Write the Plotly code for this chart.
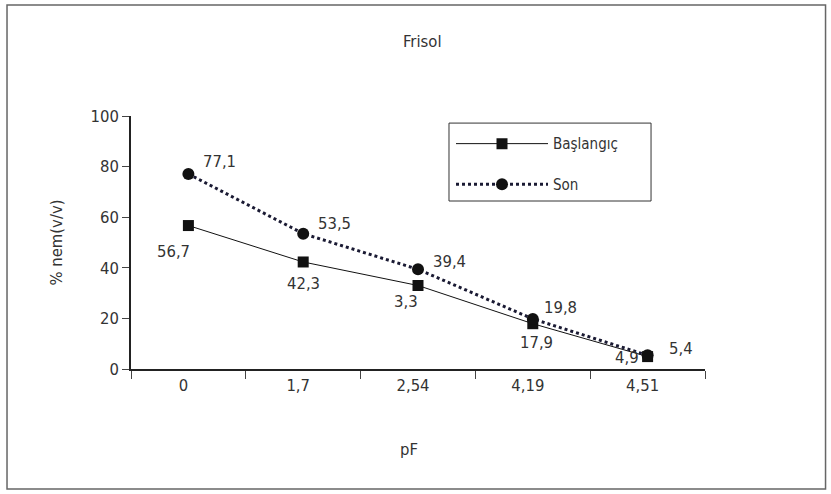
import plotly.graph_objects as go

categories = ["0", "1,7", "2,54", "4,19", "4,51"]
baslangic = [56.7, 42.3, 33.0, 17.9, 4.9]
baslangic_labels = ["56,7", "42,3", "3,3", "17,9", "4,9"]
son = [77.1, 53.5, 39.4, 19.8, 5.4]
son_labels = ["77,1", "53,5", "39,4", "19,8", "5,4"]

# label offsets in pixels (dx, dy up-positive)
b_off = [(-15, -26), (0, -22), (-12, -16), (4, -19), (-21, -1)]
s_off = [(31, 12), (31, 10), (31, 8), (28, 11), (33, 7)]

FONT = "DejaVu Sans Condensed, Liberation Sans Narrow, sans-serif"
TXT = "#333333"
FS = 16.5

fig = go.Figure()
fig.add_trace(go.Scatter(
    x=categories, y=baslangic, name="Başlangıç", mode="lines+markers",
    legendgroup="a",
    line=dict(color="#111111", width=1),
    marker=dict(symbol="square", size=11, color="#111111"),
))
fig.add_trace(go.Scatter(
    x=categories, y=son, name="Son", mode="lines+markers",
    legendgroup="b",
    line=dict(color="#1a1a33", width=3, dash="dot"),
    marker=dict(symbol="circle", size=12, color="#111111"),
))

annotations = []
for c, v, t, (dx, dy) in zip(categories, baslangic, baslangic_labels, b_off):
    annotations.append(dict(x=c, y=v, text=t, showarrow=False, xshift=dx, yshift=dy,
                            font=dict(size=FS, family=FONT, color=TXT)))
for c, v, t, (dx, dy) in zip(categories, son, son_labels, s_off):
    annotations.append(dict(x=c, y=v, text=t, showarrow=False, xshift=dx, yshift=dy,
                            font=dict(size=FS, family=FONT, color=TXT)))
annotations += [
    dict(text="Frisol", xref="paper", yref="paper", x=0.507, y=1.34,
         showarrow=False, font=dict(size=FS, family=FONT, color=TXT)),
    dict(text="pF", xref="paper", yref="paper", x=0.484, y=-0.364,
         showarrow=False, font=dict(size=FS, family=FONT, color=TXT)),
]

fig.update_layout(
    width=831, height=494,
    margin=dict(l=131, r=126, t=116, b=125),
    paper_bgcolor="white", plot_bgcolor="white",
    font=dict(family=FONT, size=FS, color=TXT),
    showlegend=True,
    legend=dict(x=0.5575, y=0.955, xanchor="left", yanchor="top",
                borderwidth=0, bgcolor="rgba(0,0,0,0)",
                font=dict(size=15, family=FONT, color=TXT), itemwidth=92,
                tracegroupgap=18),
    annotations=annotations,
    shapes=[
        dict(type="rect", xref="paper", yref="paper",
             x0=-0.216, x1=1.21, y0=-0.474, y1=1.439,
             line=dict(color="#666666", width=1.5)),
        dict(type="rect", xref="paper", yref="paper",
             x0=0.554, x1=0.906, y0=0.664, y1=0.972,
             line=dict(color="#333333", width=1), fillcolor="white", layer="below"),
    ],
)
fig.update_xaxes(type="category", range=[-0.5, 4.5], showline=True, linecolor="#222222", linewidth=1.5,
                 ticks="outside", ticklen=8, tickson="boundaries", tickcolor="#444444",
                 showgrid=False, tickfont=dict(size=FS, color=TXT), ticklabelshift=-5)
fig.update_yaxes(range=[0, 100], dtick=20, showline=True, linecolor="#222222", linewidth=1.5,
                 ticks="outside", ticklen=7, tickcolor="#444444", showgrid=False,
                 zeroline=False, tickfont=dict(size=FS, color=TXT),
                 title=dict(text="% nem(v/v)", font=dict(size=FS, color=TXT), standoff=24))

fig.write_html("out.html")
